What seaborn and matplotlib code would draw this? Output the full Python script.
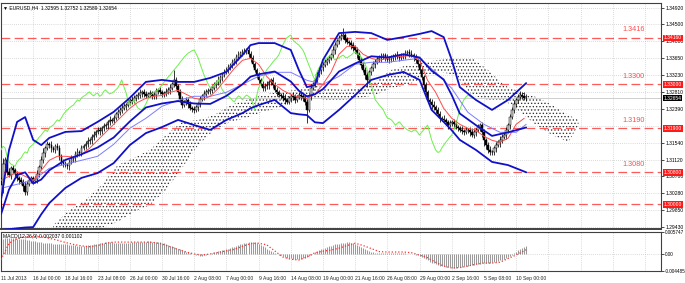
import numpy as np
import pandas as pd
import matplotlib
matplotlib.use("Agg")
import matplotlib.pyplot as plt
import matplotlib.transforms as mtrans
import seaborn as sns

sns.set_style("white")
plt.rcParams['font.family'] = ['Liberation Sans', 'DejaVu Sans']
plt.rcParams['hatch.linewidth'] = 0.55

BASE = 1.3      # prices below are stored as pips above 1.3000
PIP = 0.0001

# ---------------- candles (EURUSD H4), pips above 1.3000 ----------------
first_open = 20
close_pips = [48, 100, 111, 80, 73, 90, 86, 76, 66, 60, 56, 45, 31, 50, 61, 65, 58,
              62, 75, 92, 111, 128, 141, 150, 148, 140, 136, 145, 141, 120, 106, 100, 98,
              95, 106, 112, 116, 125, 131, 128, 141, 146, 150, 158, 161, 168, 173, 180, 186,
              182, 191, 195, 198, 205, 211, 208, 216, 225, 231, 236, 241, 245, 248, 255, 261,
              258, 266, 270, 273, 278, 281, 275, 271, 276, 278, 270, 273, 282, 286, 280, 276,
              278, 281, 286, 291, 300, 311, 295, 281, 262, 248, 255, 261, 250, 241, 238, 236,
              242, 251, 262, 271, 276, 281, 283, 286, 292, 298, 305, 311, 318, 323, 330, 336,
              342, 348, 355, 361, 368, 373, 378, 381, 384, 386, 376, 366, 350, 336, 322, 311,
              300, 291, 295, 298, 305, 311, 298, 286, 280, 273, 270, 266, 260, 256, 265, 271,
              268, 261, 268, 273, 270, 266, 255, 236, 270, 291, 300, 311, 325, 336, 342, 348,
              355, 361, 366, 373, 385, 398, 408, 416, 420, 423, 412, 406, 402, 398, 392, 386,
              375, 361, 348, 336, 322, 311, 330, 341, 350, 356, 362, 366, 370, 373, 366, 361,
              364, 366, 370, 373, 368, 366, 370, 373, 378, 381, 376, 373, 368, 361, 350, 336,
              318, 298, 280, 261, 255, 248, 242, 236, 225, 216, 214, 211, 205, 198, 203, 206,
              200, 193, 190, 186, 184, 181, 185, 186, 180, 173, 180, 186, 192, 198, 180, 161,
              148, 136, 130, 131, 140, 148, 155, 161, 168, 173, 185, 198, 218, 236, 250, 261,
              268, 273, 270, 266, 265]
wick_up = [20, 15, 8, 6, 10, 5, 8, 6, 7, 5, 9, 6, 12, 8, 5, 7,
           6, 8, 10, 7, 9, 12, 6, 8, 5, 10, 7, 6, 9, 8, 5, 7,
           8, 6, 7, 10, 5, 8, 9, 6, 7, 5, 8, 10, 6, 7, 9, 5,
           7, 8, 6, 9, 5, 7, 10, 6, 8, 5, 7, 6, 9, 8, 5, 7,
           6, 9, 7, 5, 8, 10, 6, 7, 9, 5, 8, 6, 7, 10, 5, 8,
           7, 6, 9, 8, 10, 6, 25, 7, 5, 8, 9, 6, 7, 5, 8, 6,
           9, 7, 5, 8, 6, 10, 7, 9, 5, 6, 8, 7, 10, 6, 5, 9,
           7, 8, 6, 9, 5, 7, 10, 6, 8, 7, 5, 9, 6, 8, 7, 5,
           9, 6, 8, 7, 10, 5, 6, 8, 9, 7, 5, 6, 8, 10, 7, 6,
           5, 9, 7, 6, 8, 10, 7, 5, 8, 6, 9, 7, 5, 8, 10, 6,
           7, 9, 6, 8, 5, 10, 7, 6, 8, 9, 18, 5, 7, 6, 8, 9,
           6, 7, 5, 8, 9, 6, 10, 7, 5, 8, 6, 9, 7, 8, 5, 6,
           9, 7, 8, 5, 6, 10, 7, 9, 5, 8, 6, 7, 9, 6, 8, 5,
           10, 8, 6, 9, 7, 5, 8, 10, 6, 7, 9, 5, 8, 6, 7, 9,
           5, 8, 10, 6, 7, 9, 5, 8, 6, 7, 10, 8, 6, 9, 5, 7,
           8, 6, 9, 10, 5, 7, 8, 6, 9, 7, 5, 8, 6, 9, 7, 10,
           6, 8, 9, 7, 10, 9]
wick_dn = [30, 20, 10, 8, 6, 9, 7, 5, 8, 10, 6, 12, 9, 7, 5, 8,
           7, 6, 9, 8, 5, 7, 10, 6, 8, 9, 5, 7, 6, 10, 8, 7,
           6, 8, 9, 5, 7, 10, 6, 8, 7, 5, 9, 6, 8, 10, 7, 6,
           5, 8, 7, 9, 6, 10, 8, 5, 7, 6, 9, 8, 7, 5, 10, 6,
           8, 7, 5, 9, 6, 8, 10, 7, 5, 6, 9, 8, 7, 10, 6, 5,
           9, 7, 8, 6, 10, 5, 7, 8, 9, 6, 7, 5, 8, 10, 6, 7,
           8, 6, 9, 7, 5, 10, 8, 6, 7, 9, 5, 8, 6, 7, 10, 6,
           5, 9, 7, 8, 6, 10, 7, 5, 8, 6, 9, 7, 10, 8, 6, 7,
           8, 5, 9, 7, 6, 10, 8, 7, 5, 9, 6, 8, 7, 10, 5, 6,
           9, 7, 8, 5, 6, 10, 8, 7, 33, 6, 9, 5, 8, 7, 6, 10,
           8, 6, 7, 9, 5, 8, 10, 6, 7, 5, 8, 9, 6, 7, 10, 8,
           7, 9, 5, 8, 6, 10, 18, 7, 6, 8, 9, 5, 7, 10, 6, 8,
           6, 8, 9, 7, 10, 5, 8, 6, 7, 9, 6, 8, 5, 10, 7, 6,
           9, 7, 10, 8, 6, 5, 9, 7, 8, 6, 10, 7, 5, 8, 9, 6,
           7, 10, 6, 8, 5, 9, 7, 6, 8, 10, 5, 7, 9, 6, 8, 12,
           15, 10, 9, 7, 6, 8, 10, 5, 12, 8, 6, 9, 7, 10, 6, 8,
           7, 9, 6, 8, 5, 6]

# ---------------- Bollinger bands (thick blue) ----------------
bb_idx = [0, 4, 8, 12, 16, 20, 24, 32, 40, 48, 56, 64, 72, 80, 88, 96, 104, 112, 120, 124,
          128, 136, 144, 148, 152, 156, 160, 168, 176, 184, 192, 200, 208, 214, 220, 224,
          228, 236, 244, 252, 261]
bb_upper = [11, 136, 206, 218, 161, 148, 166, 181, 183, 206, 231, 266, 306, 311, 306, 306,
            316, 331, 373, 398, 403, 403, 386, 336, 293, 298, 361, 428, 431, 428, 411, 418,
            426, 433, 418, 361, 293, 261, 236, 261, 303]
bb_middle = [-25, 37, 73, 80, 52, 62, 85, 111, 125, 142, 167, 207, 242, 252, 258, 252,
             251, 271, 300, 319, 325, 332, 307, 284, 270, 275, 288, 332, 352, 370, 367, 375,
             367, 334, 312, 273, 227, 198, 171, 180, 192]
bb_lower = [-64, -62, -60, -58, -57, -25, 3, 41, 66, 78, 103, 148, 178, 193, 211, 198,
            186, 211, 228, 240, 248, 261, 228, 225, 223, 205, 203, 236, 273, 311, 323, 331,
            311, 236, 206, 185, 161, 136, 106, 98, 80]

# ---------------- Ichimoku ----------------
tenkan_idx = list(range(0, 261, 4))
tenkan = [60, 70, 80, 70, 60, 85, 110, 120, 120, 118, 125, 140, 160, 180, 200, 220, 240,
          255, 265, 270, 272, 280, 285, 275, 265, 262, 270, 290, 315, 340, 360, 365, 350,
          320, 300, 285, 275, 268, 265, 275, 300, 330, 375, 395, 395, 375, 365, 360, 365,
          370, 370, 372, 360, 310, 280, 240, 215, 200, 190, 185, 170, 160, 155, 165, 200, 215]
kijun_idx = [0, 8, 16, 24, 32, 40, 48, 56, 64, 72, 80, 88, 96, 104, 112, 120, 128, 136, 144,
             152, 160, 168, 176, 184, 192, 200, 208, 216, 224, 232, 240, 248, 256, 261]
kijun = [40, 50, 60, 90, 100, 110, 120, 150, 190, 215, 245, 260, 270, 270, 280, 300, 320,
         330, 330, 310, 300, 320, 350, 355, 355, 360, 365, 330, 290, 230, 200, 180, 180, 200]
span_idx = [26, 34, 42, 50, 58, 66, 74, 82, 90, 98, 106, 114, 122, 130, 138, 146, 154, 162,
            170, 178, 186, 194, 202, 210, 218, 226, 234, 242, 250, 258, 266, 274, 282, 287]
span_a = [-52, -14, 11, 48, 98, 116, 136, 173, 206, 211, 223, 248, 261, 273, 281, 286, 298,
          291, 286, 291, 306, 336, 348, 356, 361, 366, 366, 336, 298, 281, 268, 248, 223, 211]
span_b = [-89, -77, -64, -59, -44, -19, -2, 36, 91, 148, 186, 206, 216, 231, 241, 261, 266,
          261, 261, 266, 273, 291, 298, 316, 331, 323, 273, 261, 261, 231, 198, 173, 156, 198]
chikou_shift = 26

# ---------------- MACD(12,26,9), units of 0.0001 ----------------
macd = [38, 40, 41, 42,
        42, 42, 41, 41, 40, 40, 39, 38, 38, 37, 36,
        35, 34, 33, 32, 31, 30, 29, 29, 28, 28, 28, 27, 27, 27, 27, 26, 26, 25, 25,
        24, 24, 23, 23, 22, 22, 22, 22, 22, 23, 23, 24, 25, 26, 27, 28,
        29, 29, 30, 30, 30, 30, 29, 29, 29, 28, 28, 28, 28, 29, 29, 30, 30, 31, 31, 31, 32,
        32, 32, 33, 33, 32, 32, 31, 31, 30,
        29, 28, 26, 24, 22, 20, 18, 16, 14, 12, 10, 8, 6, 4, 2, 1,
        -1, -3, -4, -5, -5, -4, -3,
        -1, 1, 2, 4, 5, 7, 8, 10, 11, 13, 14, 15, 17,
        19, 21, 23, 25, 27, 28, 29, 30, 31, 31,
        30, 28, 26, 23, 20, 17, 14, 11, 8, 5, 2, 0,
        -2, -4, -6, -8, -10, -11, -12, -13, -14, -14, -14, -13, -12, -10, -8, -5,
        -2, 1, 4, 7, 10, 12, 14, 16, 18, 20, 22, 24, 25, 26, 27, 28, 29, 29,
        30, 30, 29, 28, 26, 24, 21,
        18, 15, 12, 9, 7, 5, 4,
        3, 3, 3, 2, 2, 3, 3, 3, 3, 2, 2, 2, 3, 3, 2, 2, 1, 1, 0, -1, -2,
        -4, -6, -8, -11, -14, -17, -20, -23, -25, -27, -29, -31,
        -32, -33, -34, -35, -35, -36, -36, -36, -35, -35, -34, -33, -32, -31, -30, -29,
        -28, -27, -26, -26, -25, -25, -24, -24, -23,
        -22, -21, -20, -19, -17, -15, -13, -11, -8, -5,
        -2, 2, 6, 10, 13, 16, 18, 20]
signal_idx = list(range(0, 261, 4)) + [261]
signal = [-15, 28, 40, 45, 45, 45, 41, 36, 30, 25, 21, 19, 22, 28, 31, 31, 31, 31, 31, 30,
          26, 19, 12, 5, 0, -3, 0, 4, 8, 12, 20, 27, 28, 24, 8, -8, -14, -16, -8, 3, 7, 10,
          15, 22, 28, 22, 14, 6, 5, 5, 5, 3, -3, -10, -22, -32, -37, -36, -32, -27, -24, -24,
          -22, -12, -3, 8, 11]

# ---------------- levels, axes, labels ----------------
levels = [1.3416, 1.3300, 1.3190, 1.3080, 1.3000]
level_labels = ["1.3416", "1.3300", "1.3190", "1.3080", ""]
level_boxes = ["1.34160", "1.33000", "1.31900", "1.30800", "1.30000"]
bid = 1.32654
price_ticks = [1.34920, 1.34500, 1.34080, 1.33650, 1.33230, 1.32810, 1.32390,
               1.31540, 1.31120, 1.30700, 1.30280, 1.29850, 1.29430]
date_labels = ["11 Jul 2013", "16 Jul 00:00", "18 Jul 16:00", "23 Jul 08:00", "26 Jul 00:00",
               "30 Jul 16:00", "2 Aug 08:00", "7 Aug 00:00", "9 Aug 16:00", "14 Aug 08:00",
               "19 Aug 00:00", "21 Aug 16:00", "26 Aug 08:00", "29 Aug 00:00", "2 Sep 16:00",
               "5 Sep 08:00", "10 Sep 00:00"]
header = "EURUSD,H4  1.32595 1.32752 1.32589 1.32654"
macd_header = "MACD(12,26,9) 0.002037 0.001102"
macd_ticks = [0.005747, 0.0, -0.004485]
macd_tick_labels = ["0.005747", "0.00", "-0.004485"]

# ============================================================
W, H = 685, 283
fig = plt.figure(figsize=(W / 100, H / 100), dpi=100)
fig.patch.set_facecolor("white")

def frac(x0, y0, x1, y1):
    return [x0 / W, 1 - y1 / H, (x1 - x0) / W, (y1 - y0) / H]

ax = fig.add_axes(frac(1, 3, 661, 229))
ax2 = fig.add_axes(frac(1, 232, 661, 271))

XMAX = 328
ax.set_xlim(0, XMAX)
ax2.set_xlim(0, XMAX)
ax.set_ylim(1.293825, 1.350325)
ax2.set_ylim(macd_ticks[2], macd_ticks[0])

grid_kw = dict(color="#b8b8b8", lw=0.5, ls=(0, (1, 2)), zorder=0)
for gx in range(0, XMAX, 16):
    ax.axvline(gx, **grid_kw)
    ax2.axvline(gx, **grid_kw)
for p in price_ticks + [1.31960]:
    ax.axhline(p, **grid_kw)
ax2.axhline(0.0, **grid_kw)

n = len(close_pips)
xi = np.arange(n)
closes = BASE + np.array(close_pips) * PIP
opens = np.r_[BASE + first_open * PIP, closes[:-1]]
highs = np.maximum(opens, closes) + np.array(wick_up) * PIP
lows = np.minimum(opens, closes) - np.array(wick_dn) * PIP

# Ichimoku cloud (dotted)
sx = np.array(span_idx)
sa = BASE + np.array(span_a) * PIP
sb = BASE + np.array(span_b) * PIP
ax.fill_between(sx, sa, sb, facecolor="none", edgecolor="#303030", hatch=".....",
                linewidth=0, zorder=1)

# levels
for lv, lab in zip(levels, level_labels):
    ax.axhline(lv, color="#ff5a5a", lw=0.9, ls=(0, (7, 3.5)), zorder=2)
    if lab:
        ax.annotate(lab, (320, lv), xytext=(0, 3.2), textcoords="offset points",
                    ha="right", va="bottom", color="#ff4c4c", fontsize=5.2)
ax.axhline(bid, color="#c8c8c8", lw=0.6, zorder=1)

# candles
ax.vlines(xi, lows, highs, color="black", lw=0.55, zorder=3)
up = closes >= opens
ax.bar(xi[up], (closes - opens)[up], bottom=opens[up], width=0.8, color="#d8d8d8",
       edgecolor="black", linewidth=0.35, zorder=4)
ax.bar(xi[~up], (opens - closes)[~up], bottom=closes[~up], width=0.8, color="black",
       edgecolor="black", linewidth=0.35, zorder=4)

def line(axis, xs, ys, color, lw, ls="-", z=5):
    df = pd.DataFrame({"x": xs, "y": ys})
    sns.lineplot(data=df, x="x", y="y", ax=axis, color=color, linewidth=lw,
                 linestyle=ls, zorder=z, legend=False, estimator=None, sort=False)

to_p = lambda v: BASE + np.array(v) * PIP
line(ax, np.arange(n - chikou_shift), closes[chikou_shift:], "#6cf04a", 0.7)
line(ax, kijun_idx, to_p(kijun), "#7c7cff", 0.7)
line(ax, tenkan_idx, to_p(tenkan), "#ff4a4a", 0.7)
line(ax, bb_idx, to_p(bb_upper), "#1010c8", 1.3)
line(ax, bb_idx, to_p(bb_middle), "#1010c8", 1.3)
line(ax, bb_idx, to_p(bb_lower), "#1010c8", 1.3)

# MACD
ax2.vlines(xi, 0, np.array(macd) * PIP, color="#9a9a9a", lw=0.75, zorder=2)
line(ax2, signal_idx, np.array(signal) * PIP, "#ff3030", 0.9, ls=(0, (1, 1.6)), z=3)

# axes styling
for a in (ax, ax2):
    a.set_xlabel("")
    a.set_ylabel("")
    for s in a.spines.values():
        s.set_color("#404040")
        s.set_linewidth(0.8)
    a.yaxis.tick_right()
    a.tick_params(axis="y", labelsize=3.6, length=2, width=0.5, pad=1, colors="black")

ax.spines["bottom"].set_linewidth(1.4)
ax.set_yticks(price_ticks)
ax.set_yticklabels([f"{p:.5f}" for p in price_ticks])
ax.set_xticks([])
ax2.set_yticks(macd_ticks)
ax2.set_yticklabels(macd_tick_labels)
ax2.tick_params(axis="y", labelsize=3.3, pad=0.8)
ax2.set_xticks(range(0, 257, 16))
ax2.set_xticklabels(date_labels, ha="left", fontsize=3.6)
ax2.tick_params(axis="x", length=2, width=0.5, pad=1.5)

# right-axis boxes
tr = mtrans.blended_transform_factory(ax.transAxes, ax.transData)
for lv, txt in zip(levels, level_boxes):
    ax.text(1.004, lv, txt, transform=tr, fontsize=3.6, color="white", va="center",
            ha="left", bbox=dict(boxstyle="square,pad=0.15", fc="#ff1a1a", ec="none"),
            zorder=10, clip_on=False)
ax.text(1.004, bid, f"{bid:.5f}", transform=tr, fontsize=3.6, color="white", va="center",
        ha="left", bbox=dict(boxstyle="square,pad=0.15", fc="black", ec="none"),
        zorder=10, clip_on=False)

ax.text(0.003, 0.988, "\u25bc " + header, transform=ax.transAxes, fontsize=3.6,
        va="top", ha="left", color="black", zorder=11)
ax2.text(0.003, 0.96, macd_header, transform=ax2.transAxes, fontsize=3.6,
         va="top", ha="left", color="black", zorder=11)

fig.savefig("out.png", dpi=100, facecolor="white")
